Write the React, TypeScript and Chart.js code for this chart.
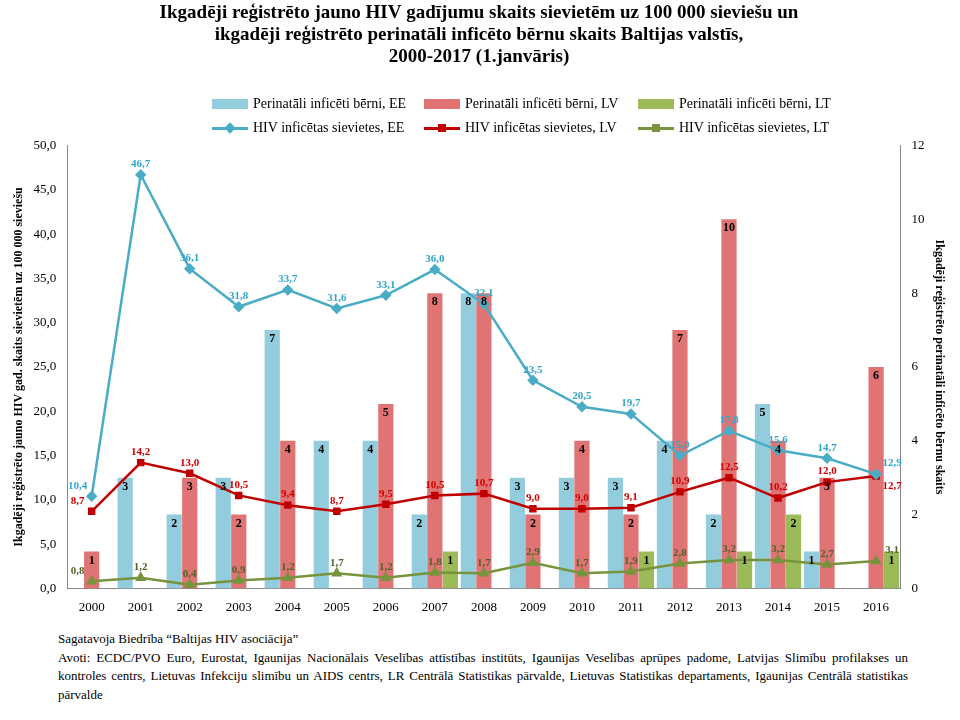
import React, { useEffect, useRef } from "react";
import { Chart, registerables } from "chart.js";
Chart.register(...registerables);

const years = ["2000","2001","2002","2003","2004","2005","2006","2007","2008","2009","2010","2011","2012","2013","2014","2015","2016"];
const barsEE = [0,3,2,3,7,4,4,2,8,3,3,3,4,2,5,1,0];
const barsLV = [1,0,3,2,4,0,5,8,8,2,4,2,7,10,4,3,6];
const barsLT = [0,0,0,0,0,0,0,1,0,0,0,1,0,1,2,0,1];
const hivEE = [10.4,46.7,36.1,31.8,33.7,31.6,33.1,36.0,32.1,23.5,20.5,19.7,15.0,17.8,15.6,14.7,12.9];
const hivLV = [8.7,14.2,13.0,10.5,9.4,8.7,9.5,10.5,10.7,9.0,9.0,9.1,10.9,12.5,10.2,12.0,12.7];
const hivLT = [0.8,1.2,0.4,0.9,1.2,1.7,1.2,1.8,1.7,2.9,1.7,1.9,2.8,3.2,3.2,2.7,3.1];

const SERIF = "'Liberation Serif', 'Times New Roman', serif";
const fmt = (v: number) => v.toFixed(1).replace(".", ",");

const labelPlugin = {
  id: "labels",
  afterDatasetsDraw(chart: any) {
    const ctx = chart.ctx;
    ctx.save();
    ctx.textAlign = "center";
    chart.data.datasets.forEach((ds: any, i: number) => {
      const meta = chart.getDatasetMeta(i);
      meta.data.forEach((el: any, j: number) => {
        const v = ds.data[j];
        if (ds.type === "bar") {
          if (!v) return;
          ctx.font = `bold 12px ${SERIF}`;
          ctx.fillStyle = "#000";
          ctx.textBaseline = "top";
          ctx.fillText(String(v), el.x, el.y + 3);
        } else {
          ctx.font = `bold 11px ${SERIF}`;
          ctx.fillStyle = ds.labelColor;
          let dx = 0;
          let below = false;
          if (j === 0) dx = -14;
          if (j === 16) { dx = 16; if (ds.label.endsWith("LV")) below = true; }
          if (below) {
            ctx.textBaseline = "top";
            ctx.fillText(fmt(v), el.x + dx, el.y + 5);
          } else {
            ctx.textBaseline = "bottom";
            ctx.fillText(fmt(v), el.x + dx, el.y - 5);
          }
        }
      });
    });
    ctx.restore();
  },
};

const legendItems = [
  { label: "Perinatāli inficēti bērni, EE", color: "#93CDDD", kind: "bar", x: 212, y: 96 },
  { label: "Perinatāli inficēti bērni, LV", color: "#E07474", kind: "bar", x: 424, y: 96 },
  { label: "Perinatāli inficēti bērni, LT", color: "#9BBB59", kind: "bar", x: 638, y: 96 },
  { label: "HIV inficētas sievietes, EE", color: "#4BACC6", kind: "line", x: 212, y: 120 },
  { label: "HIV inficētas sievietes, LV", color: "#C00000", kind: "line", x: 424, y: 120 },
  { label: "HIV inficētas sievietes, LT", color: "#77933C", kind: "line", x: 638, y: 120 },
];

export default function App() {
  const ref = useRef<HTMLCanvasElement>(null);
  useEffect(() => {
    const c = new Chart(ref.current!, {
      type: "bar",
      data: {
        labels: years,
        datasets: [
          { type: "bar", label: "Perinatāli inficēti bērni, EE", data: barsEE, backgroundColor: "#93CDDD", yAxisID: "y1", order: 2 },
          { type: "bar", label: "Perinatāli inficēti bērni, LV", data: barsLV, backgroundColor: "#E07474", yAxisID: "y1", order: 2 },
          { type: "bar", label: "Perinatāli inficēti bērni, LT", data: barsLT, backgroundColor: "#9BBB59", yAxisID: "y1", order: 2 },
          { type: "line", label: "HIV inficētas sievietes, EE", data: hivEE, borderColor: "#4BACC6", backgroundColor: "#4BACC6", pointStyle: "rectRot", pointRadius: 4, borderWidth: 2.5, yAxisID: "y", order: 1, labelColor: "#31A5C8" } as any,
          { type: "line", label: "HIV inficētas sievietes, LV", data: hivLV, borderColor: "#C00000", backgroundColor: "#C00000", pointStyle: "rect", pointRadius: 3.5, borderWidth: 2.5, yAxisID: "y", order: 1, labelColor: "#D00000" } as any,
          { type: "line", label: "HIV inficētas sievietes, LT", data: hivLT, borderColor: "#77933C", backgroundColor: "#77933C", pointStyle: "triangle", pointRadius: 4, borderWidth: 2.5, yAxisID: "y", order: 1, labelColor: "#4F6228" } as any,
        ],
      },
      options: {
        animation: false,
        responsive: false,
        layout: { padding: { left: 8, right: 10 } },
        datasets: { bar: { categoryPercentage: 0.95, barPercentage: 0.98 } },
        plugins: {
          title: {
            display: true,
            text: [
              "Ikgadēji reģistrēto jauno HIV gadījumu skaits sievietēm uz 100 000 sieviešu un",
              "ikgadēji reģistrēto perinatāli inficēto bērnu skaits Baltijas valstīs,",
              "2000-2017 (1.janvāris)",
            ],
            color: "#000",
            font: { family: SERIF, size: 19, weight: "bold", lineHeight: 1.15 },
            padding: { top: 2, bottom: 78 },
          },
          legend: { display: false },
          tooltip: { enabled: false },
        },
        scales: {
          x: {
            grid: { display: false },
            ticks: { color: "#000", font: { family: SERIF, size: 13 } },
            border: { color: "#888" },
          },
          y: {
            position: "left",
            min: 0, max: 50,
            ticks: { stepSize: 5, color: "#000", font: { family: SERIF, size: 13 }, callback: (v: any) => fmt(Number(v)) },
            grid: { display: false },
            border: { color: "#888" },
            title: { display: true, text: "Ikgadēji reģistrēto jauno HIV gad. skaits sievietēm uz 100 000 sieviešu", color: "#000", font: { family: SERIF, size: 12, weight: "bold" } },
          },
          y1: {
            position: "right",
            min: 0, max: 12,
            ticks: { stepSize: 2, color: "#000", font: { family: SERIF, size: 13 } },
            grid: { display: false },
            border: { color: "#888" },
            title: { display: true, text: "Ikgadēji reģistrēto perinatāli inficēto bērnu skaits", color: "#000", font: { family: SERIF, size: 12, weight: "bold" } },
          },
        },
      },
      plugins: [labelPlugin],
    });
    return () => c.destroy();
  }, []);
  return (
    <div style={{ position: "absolute", left: 0, top: 0, width: 960, height: 720, background: "#fff" }}>
      <canvas ref={ref} width={960} height={618} style={{ display: "block" }} />
      {legendItems.map((it) => (
        <div key={it.label} style={{ position: "absolute", left: it.x, top: it.y, display: "flex", alignItems: "center", fontFamily: SERIF, fontSize: 14, color: "#000", whiteSpace: "nowrap" }}>
          {it.kind === "bar" ? (
            <span style={{ display: "inline-block", width: 36, height: 10, background: it.color, marginRight: 5 }} />
          ) : (
            <span style={{ position: "relative", display: "inline-block", width: 36, height: 10, marginRight: 5 }}>
              <span style={{ position: "absolute", left: 0, top: 4, width: 36, height: 3, background: it.color }} />
              <span style={{ position: "absolute", left: 14, top: 1, width: 8, height: 8, background: it.color, transform: it.color === "#4BACC6" ? "rotate(45deg)" : "none" }} />
            </span>
          )}
          {it.label}
        </div>
      ))}
      <div style={{ position: "absolute", left: 58, top: 630, width: 850, fontFamily: SERIF, fontSize: 13, lineHeight: "18.5px", color: "#000" }}>
        <div>Sagatavoja Biedrība “Baltijas HIV asociācija”</div>
        <div style={{ textAlign: "justify" }}>Avoti: ECDC/PVO Euro, Eurostat, Igaunijas Nacionālais Veselības attīstības institūts, Igaunijas Veselības aprūpes padome, Latvijas Slimību profilakses un kontroles centrs, Lietuvas Infekciju slimību un AIDS centrs, LR Centrālā Statistikas pārvalde, Lietuvas Statistikas departaments, Igaunijas Centrālā statistikas pārvalde</div>
      </div>
    </div>
  );
}
